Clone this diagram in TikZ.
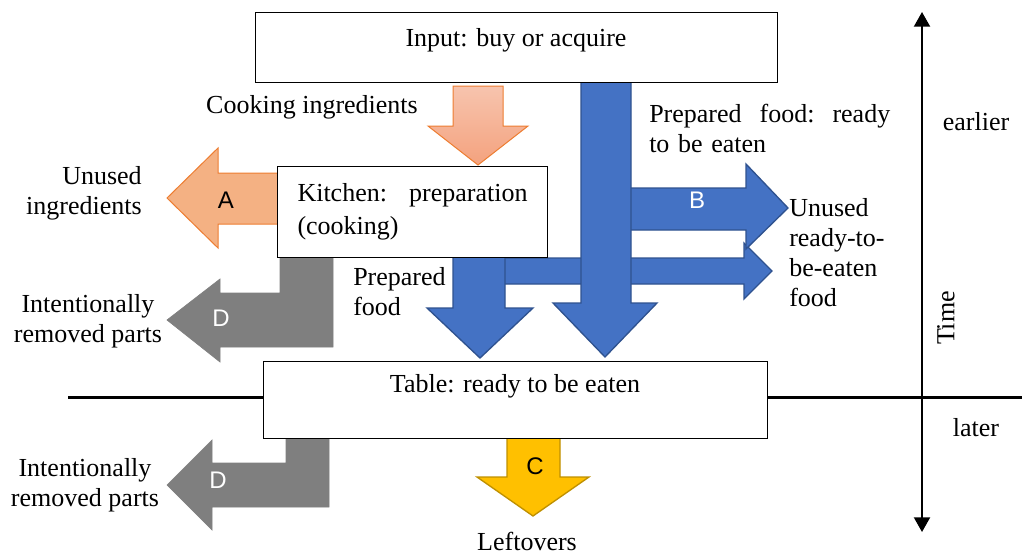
\documentclass[tikz,border=0pt]{standalone}
\usepackage{fontspec}
\setmainfont{Liberation Serif}
\newfontfamily\labelfont{Liberation Sans}
\usetikzlibrary{arrows.meta}

\definecolor{blockblue}{HTML}{4472C4}
\definecolor{blueedge}{HTML}{2F528F}
\definecolor{orangefill}{HTML}{F4B183}
\definecolor{orangeedge}{HTML}{ED7D31}
\definecolor{orangelight}{HTML}{F7C4AE}
\definecolor{orangedark}{HTML}{F4A27E}
\definecolor{greyfill}{HTML}{7F7F7F}
\definecolor{yellowfill}{HTML}{FFC000}
\definecolor{yellowedge}{HTML}{BF9000}

\begin{document}
\begin{tikzpicture}[x=0.75pt, y=-0.75pt,
    txt/.style={font=\fontsize{19.5}{22.5}\selectfont, inner sep=0pt},
    letter/.style={font=\labelfont\fontsize{18}{20}\selectfont, inner sep=0pt},
    stage/.style={draw=black, fill=white, line width=0.75pt, inner sep=0pt},
    bluearrow/.style={fill=blockblue, draw=blueedge, line width=1pt, line join=miter},
    greyarrow/.style={fill=greyfill, draw=greyfill, line width=0.5pt, line join=miter},
    orangearrow/.style={fill=orangefill, draw=orangeedge, line width=0.75pt, line join=miter}]
    \useasboundingbox (0,0) rectangle (1022,554);

    % time line and time axis
    \coordinate (lineleft) at (68,397);
    \coordinate (lineright) at (1022,397);
    \draw[line width=2.25pt] (lineleft) -- (lineright);
    \coordinate (earliest) at (922,12);
    \coordinate (latest) at (922,532);
    \draw[line width=1.5pt, {Triangle[width=12pt, length=11pt]}-{Triangle[width=12pt, length=11pt]}] (earliest) -- (latest);

    % blue flows
    \draw[bluearrow] (480,258) -- (744,258) -- (744,243) -- (772,271) -- (744,299) -- (744,284) -- (480,284) -- cycle;
    \draw[bluearrow] (453,252) -- (505,252) -- (505,308) -- (533,308) -- (480,358) -- (427,308) -- (453,308) -- cycle;
    \draw[bluearrow] (620,188) -- (746,188) -- (746,164) -- (788,208) -- (746,249) -- (746,230) -- (620,230) -- cycle;
    \draw[bluearrow] (581,78) -- (631,78) -- (631,303) -- (657,303) -- (605,357) -- (553,303) -- (581,303) -- cycle;

    % losses
    \draw[orangearrow] (290,173) -- (218,173) -- (218,148) -- (167,198) -- (218,248) -- (218,224) -- (290,224) -- cycle;
    \draw[greyarrow] (280,250) -- (333,250) -- (333,347) -- (220,347) -- (220,362) -- (167,320) -- (220,279) -- (220,293) -- (280,293) -- cycle;
    \draw[greyarrow] (286,430) -- (329,430) -- (329,507) -- (212,507) -- (212,530) -- (167,485) -- (212,440) -- (212,463) -- (286,463) -- cycle;
    \draw[fill=yellowfill, draw=yellowedge, line width=1pt, line join=miter] (507,432) -- (560,432) -- (560,477) -- (589,477) -- (533,516) -- (477,477) -- (507,477) -- cycle;
    \draw[draw=orangeedge, line width=0.75pt, line join=miter, top color=orangelight, bottom color=orangedark] (453,86) -- (503,86) -- (503,126) -- (528,126) -- (478,165) -- (428,126) -- (453,126) -- cycle;

    % stages
    \node[stage, txt, minimum width=391.5pt, text height=25.5pt, text depth=27pt] (input) at (516,47) {Input: buy or acquire};
    \node[stage, txt, font=\fontsize{19.5}{24.75}\selectfont, text width=172.5pt, inner xsep=15pt, minimum height=68.25pt, align=left, anchor=north west] (kitchen) at (277,166) {Kitchen:\hfill preparation\\(cooking)};
    \node[stage, txt, minimum width=378pt, text height=23.25pt, text depth=34.5pt] (table) at (515,399.5) {Table: ready to be eaten};

    % texts
    \node[txt] (ingredients) at (312,107) {Cooking ingredients};
    \node[txt, align=right, anchor=east] (unusedingr) at (142,193) {Unused\\ingredients};
    \node[txt, text width=180.75pt, align=left, anchor=west] (readyfood) at (649,128) {Prepared\hfill food:\hfill ready\\to be eaten};
    \node[txt, align=left, anchor=west] (unusedfood) at (789,253) {Unused\\ready-to-\\be-eaten\\food};
    \node[txt, align=left, anchor=west] (preparedfood) at (353,292) {Prepared\\food};
    \node[txt, align=center] (removedtop) at (88,321) {Intentionally\\removed parts};
    \node[txt, align=center] (removedbottom) at (85,485) {Intentionally\\removed parts};
    \node[txt] (leftovers) at (527,541) {Leftovers};
    \node[txt] (earlier) at (976,122) {earlier};
    \node[txt] (later) at (976,428) {later};
    \node[txt, rotate=90] (time) at (946,318) {Time};

    % letters
    \node[letter] (labelA) at (226,200) {A};
    \node[letter, text=white] (labelB) at (697,200) {B};
    \node[letter] (labelC) at (535,466) {C};
    \node[letter, text=white] (labelDtop) at (221,318) {D};
    \node[letter, text=white] (labelDbottom) at (218,480) {D};
\end{tikzpicture}
\end{document}
